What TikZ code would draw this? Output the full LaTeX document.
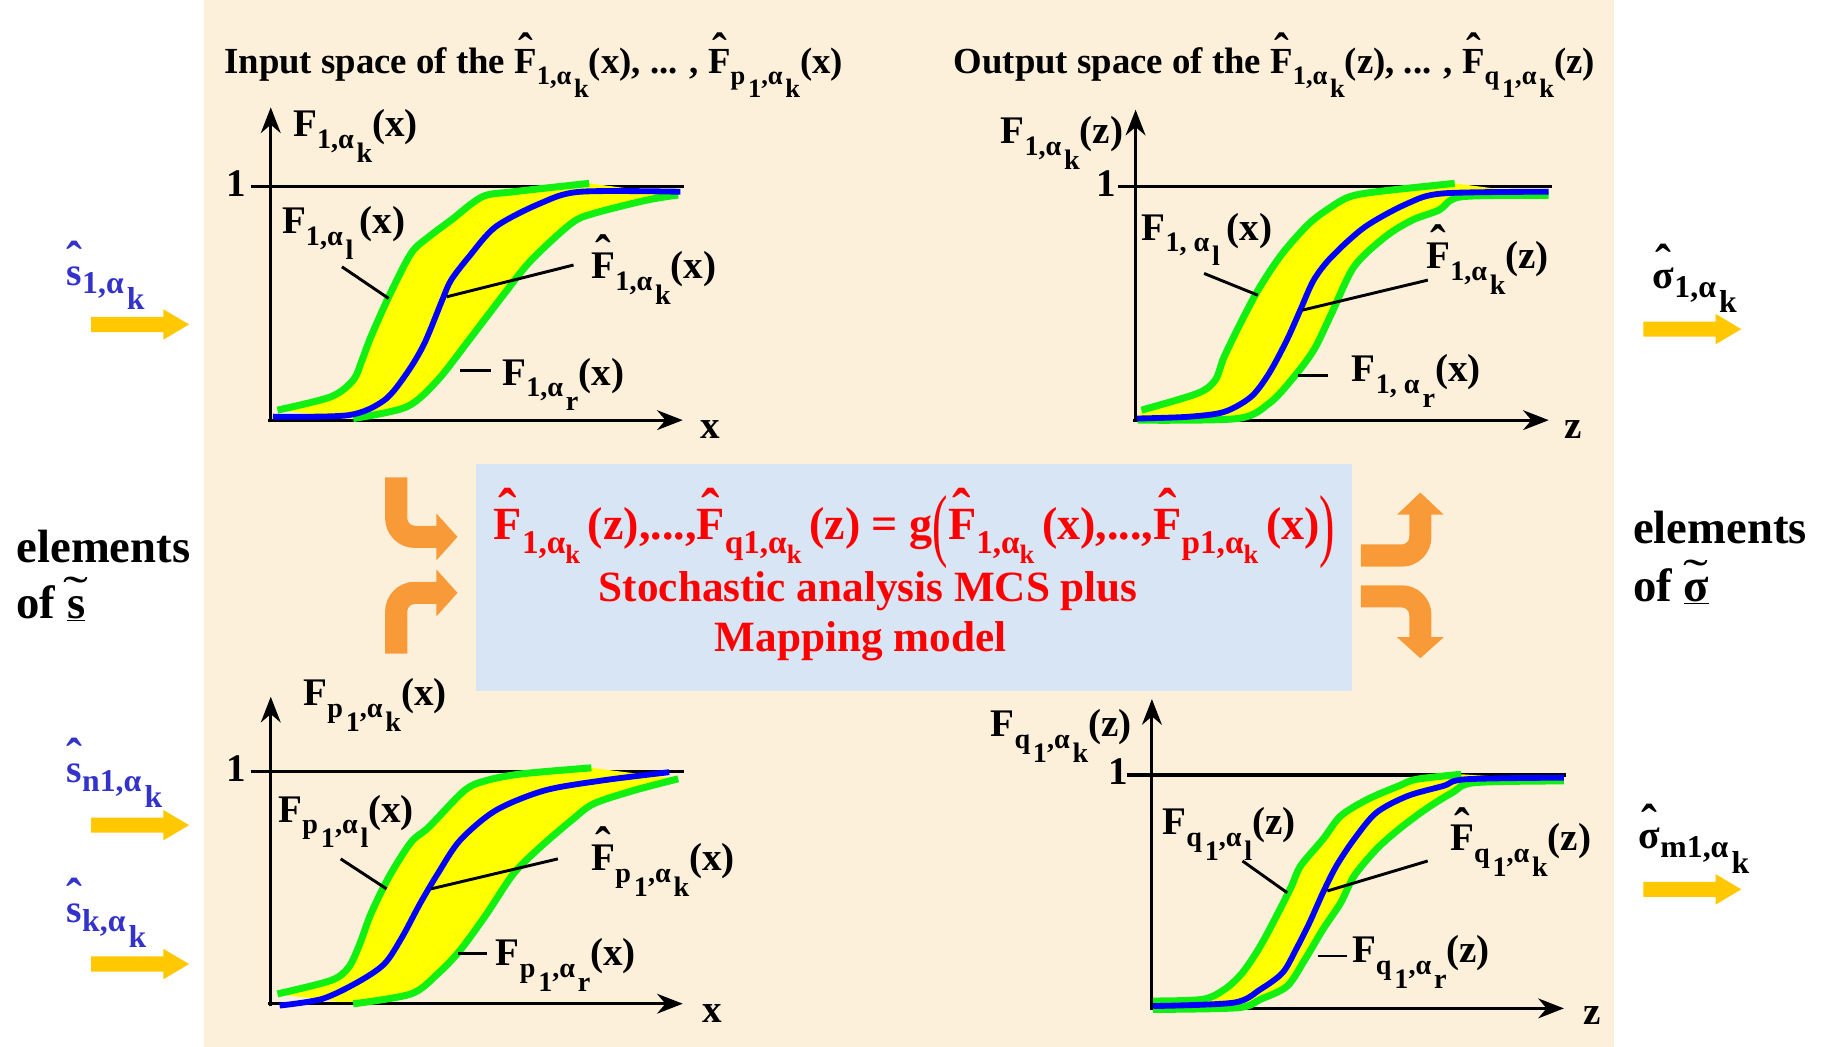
\documentclass[tikz,border=0pt]{standalone}
\usepackage{fontspec}
\usepackage{graphicx}
\setmainfont{Liberation Serif}
\usetikzlibrary{arrows.meta}
\definecolor{beige}{HTML}{FCF0DA}
\definecolor{boxblue}{HTML}{D8E5F4}
\definecolor{gyel}{HTML}{FFFF00}
\definecolor{ggreen}{HTML}{11F011}
\definecolor{bblue}{HTML}{0000FF}
\definecolor{arryel}{HTML}{FFC800}
\definecolor{orng}{HTML}{F99A38}
\definecolor{labblue}{HTML}{3333CC}
\newcommand{\lsub}[1]{\raisebox{-0.3em}{\scalebox{0.72}{#1}}}
\newcommand{\llsub}[1]{\kern0.1em\raisebox{-0.5em}{#1}}
\newcommand{\ksubb}[1]{\raisebox{-0.3em}{\scalebox{0.8}{#1}}}
\newcommand{\bsub}[1]{\raisebox{-0.22em}{\scalebox{0.8}{#1}}}
\newcommand{\hatc}[1]{\ooalign{#1\cr\hidewidth\raisebox{0.2em}{\scalebox{1.2}[1.3]{ˆ}}\hidewidth\cr}}
\newcommand{\tildec}[1]{\ooalign{#1\cr\hidewidth\raisebox{0.22em}{\scalebox{1.6}[1]{\mdseries ˜}}\hidewidth\cr}}
\newcommand{\bigpl}{\raisebox{-0.25em}{\scalebox{1}[1.75]{\mdseries(}}}
\newcommand{\bigpr}{\raisebox{-0.25em}{\scalebox{1}[1.75]{\mdseries)}}}
\tikzset{
  lbl/.style={inner sep=0, anchor=base west, font=\bfseries\fontsize{33.5}{36}\selectfont},
  ttl/.style={inner sep=0, anchor=base west, font=\bfseries\fontsize{31.5}{34}\selectfont},
  axisln/.style={line width=2.5, -{Stealth[length=22pt,width=17pt]}},
  gcurve/.style={draw=ggreen, line width=6, line join=round},
  bcurve/.style={draw=bblue, line width=5, line join=round},
  oneln/.style={line width=3},
  leader/.style={line width=2.5},
  redtxt/.style={text=red, inner sep=0, font=\bfseries\fontsize{37}{40}\selectfont},
  eqtxt/.style={text=red, inner sep=0, font=\bfseries\fontsize{39.5}{40}\selectfont},
  side/.style={inner sep=0, anchor=base west, font=\bfseries\fontsize{40}{44}\selectfont},
  sidelbl/.style={text=labblue, inner sep=0, anchor=base west, font=\bfseries\fontsize{34}{36}\selectfont},
  orngarr/.style={draw=orng, line width=19, rounded corners=16},
  yarrow/.pic={\fill[arryel] (0,-6.5) -- (62,-6.5) -- (62,-13) -- (84,0) -- (62,13) -- (62,6.5) -- (0,6.5) -- cycle;}
}
\begin{document}
\begin{tikzpicture}[x=1pt,y=-1pt]
\useasboundingbox (0,0) rectangle (1568,897);
\fill[white] (0,0) rectangle (1568,897);
\fill[beige] (175,0) rectangle (1383,897);

% ---------- top-left plot ----------
\node[ttl] (tlTitle) at (192,63) {Input space of the \hatc{F}\lsub{1,α\llsub{k}}(x), ... , \hatc{F}\lsub{p\llsub{1},α\llsub{k}}(x)};
\draw[oneln] (215,160) -- (586,160);
\fill[gyel] plot[smooth] coordinates {(237.7,351.4) (283.5,340) (302.6,325.7) (310.2,308.6) (317.8,288.6) (333.1,254.3) (352.2,217.1) (367.4,202.9) (386.5,188.6) (413.2,168.6) (439.9,164.3) (504.8,157.1)} -- plot[smooth] coordinates {(581.1,167.1) (554.4,171.4) (508.6,182.9) (489.5,191.4) (455.2,222.9) (432.3,251.4) (401.8,291.4) (375,325.7) (348.4,348.6) (302.6,358.6)} -- cycle;
\draw[axisln] (232,362) -- (232,92);
\draw[axisln] (230,360) -- (585,360);
\draw[gcurve] plot[smooth] coordinates {(302.6,358.6) (348.4,348.6) (375,325.7) (401.8,291.4) (432.3,251.4) (455.2,222.9) (489.5,191.4) (508.6,182.9) (554.4,171.4) (581.1,167.1)};
\draw[gcurve] plot[smooth] coordinates {(237.7,351.4) (283.5,340) (302.6,325.7) (310.2,308.6) (317.8,288.6) (333.1,254.3) (352.2,217.1) (367.4,202.9) (386.5,188.6) (413.2,168.6) (439.9,164.3) (504.8,157.1)};
\draw[bcurve] plot[smooth] coordinates {(233.9,357) (298.8,355.7) (329.3,342.9) (348.4,320) (363.6,294.3) (378.9,257.1) (386.5,240) (401.8,220) (424.7,194.3) (462.8,174.3) (497.1,164.3) (583,164.3)};
\draw[leader] (293,228.6) -- (333,255.7);
\draw[leader] (382.7,254.3) -- (491.4,227.1);
\draw[leader] (394,317.7) -- (420.8,317.7);
\node[lbl] (tlY) at (251,117) {F\lsub{1,α\llsub{k}}(x)};
\node[lbl] (tlOne) at (194,168.6) {1};
\node[lbl] (tlL) at (241.5,200) {F\lsub{1,α\llsub{l}}\,(x)};
\node[lbl] (tlK) at (506.7,238.6) {\hatc{F}\lsub{1,α\llsub{k}}(x)};
\node[lbl] (tlR) at (430.3,330) {F\lsub{1,α\llsub{r}}(x)};
\node[lbl] (tlX) at (600,376) {x};

% ---------- top-right plot ----------
\node[ttl] (trTitle) at (817,63) {Output space of the \hatc{F}\lsub{1,α\llsub{k}}(z), ... , \hatc{F}\lsub{q\llsub{1},α\llsub{k}}(z)};
\draw[oneln] (958,160) -- (1330,160);
\fill[gyel] plot[smooth] coordinates {(978,351.4) (1025.9,337.1) (1041.2,325.7) (1048.9,305.7) (1064.2,274.3) (1079.6,245.7) (1098.8,217.1) (1121.8,191.4) (1140.9,177.1) (1156.3,168.6) (1179.3,164.3) (1246.4,157.1)} -- plot[smooth] coordinates {(1326.9,167.5) (1252.1,168.6) (1233,180) (1210,188.6) (1186.9,202.9) (1160.1,228.6) (1140.9,268.6) (1125.6,300) (1106.4,325.7) (1087.3,345.7) (1060.4,358.6) (975,360)} -- cycle;
\draw[axisln] (973,362) -- (973,94);
\draw[axisln] (971,360) -- (1327,360);
\draw[gcurve] plot[smooth] coordinates {(975,360) (1060.4,358.6) (1087.3,345.7) (1106.4,325.7) (1125.6,300) (1140.9,268.6) (1160.1,228.6) (1186.9,202.9) (1210,188.6) (1233,180) (1252.1,168.6) (1326.9,167.5)};
\draw[gcurve] plot[smooth] coordinates {(978,351.4) (1025.9,337.1) (1041.2,325.7) (1048.9,305.7) (1064.2,274.3) (1079.6,245.7) (1098.8,217.1) (1121.8,191.4) (1140.9,177.1) (1156.3,168.6) (1179.3,164.3) (1246.4,157.1)};
\draw[bcurve] plot[smooth] coordinates {(974.2,358.6) (1018.2,357.1) (1048.9,352.9) (1071.9,340) (1087.3,320) (1102.6,291.4) (1114.1,265.7) (1125.6,240) (1141,220) (1169.7,194.3) (1206.1,174.3) (1236.8,165.7) (1326.9,164.3)};
\draw[leader] (1031.7,234.3) -- (1077.7,252.9);
\draw[leader] (1116,265.7) -- (1223.4,240);
\draw[leader] (1112.2,321.4) -- (1138.2,321.4);
\node[lbl] (trY) at (857.2,122.9) {F\lsub{1,α\llsub{k}}(z)};
\node[lbl] (trOne) at (939.6,168.6) {1};
\node[lbl] (trL) at (978,205.7) {F\lsub{1, α\llsub{l}}\,(x)};
\node[lbl] (trK) at (1222,230) {\hatc{F}\lsub{1,α\llsub{k}}(z)};
\node[lbl] (trR) at (1158.2,327) {F\lsub{1, α\llsub{r}}(x)};
\node[lbl] (trZ) at (1340,375.7) {z};

% ---------- bottom-left plot ----------
\draw[oneln] (215,661) -- (586,661);
\fill[gyel] plot[smooth] coordinates {(237.7,851.6) (283.5,840.1) (298.8,828.7) (308.3,808.7) (317.8,783) (333.1,751.6) (352.2,721.6) (367.4,708.7) (398,677.3) (417,668.7) (447.5,663) (506.7,657.9)} -- plot[smooth] coordinates {(581.1,667.3) (543,677.3) (508.6,688.7) (489.5,703) (462.8,725.9) (439.9,748.7) (417,783) (394.1,814.4) (375,834.4) (352.2,851.6) (302.6,860.1)} -- cycle;
\draw[axisln] (232,862) -- (232,597);
\draw[axisln] (230,860) -- (585,860);
\draw[gcurve] plot[smooth] coordinates {(302.6,860.1) (352.2,851.6) (375,834.4) (394.1,814.4) (417,783) (439.9,748.7) (462.8,725.9) (489.5,703) (508.6,688.7) (543,677.3) (581.1,667.3)};
\draw[gcurve] plot[smooth] coordinates {(237.7,851.6) (283.5,840.1) (298.8,828.7) (308.3,808.7) (317.8,783) (333.1,751.6) (352.2,721.6) (367.4,708.7) (398,677.3) (417,668.7) (447.5,663) (506.7,657.9)};
\draw[bcurve] plot[smooth] coordinates {(239.6,861.6) (275.9,855.9) (306.4,841.6) (329.3,825.9) (344.5,803) (359.8,774.4) (375,748.7) (394.1,720.1) (424.7,694.4) (466.6,677.3) (516.2,668.7) (573.4,661.6)};
\draw[leader] (291.9,735.9) -- (331.2,761.6);
\draw[leader] (369.3,761.6) -- (478,735.9);
\draw[leader] (392.2,817.3) -- (417,817.3);
\node[lbl] (blY) at (259.8,604.4) {F\lsub{p\llsub{1},α\llsub{k}}(x)};
\node[lbl] (blOne) at (194,670) {1};
\node[lbl] (blL) at (238.5,704.4) {F\lsub{p\llsub{1},α\llsub{l}}(x)};
\node[lbl] (blK) at (506.7,745.9) {\hatc{F}\lsub{p\llsub{1},α\llsub{k}}(x)};
\node[lbl] (blR) at (424.7,827.3) {F\lsub{p\llsub{1},α\llsub{r}}(x)};
\node[lbl] (blX) at (602,875.8) {x};

% ---------- bottom-right plot ----------
\draw[oneln] (966,664) -- (1342,664);
\fill[gyel] plot[smooth] coordinates {(988.1,857.7) (1030.2,856.3) (1049.3,847.7) (1064.6,833.4) (1079.9,810.6) (1095.2,782) (1106.7,759.1) (1114.3,742) (1133.5,719.1) (1148.8,699.1) (1171.7,684.9) (1198.5,673.4) (1213.8,667.7) (1252,663.4)} -- plot[smooth] coordinates {(1340,669.1) (1263.5,670.6) (1244.4,679.1) (1221.4,693.4) (1198.5,710.6) (1179.3,727.7) (1160.2,750.6) (1148.8,773.4) (1133.5,796.3) (1118.2,822) (1102.9,844.9) (1079.9,856.3) (1060.8,863.4) (988.1,864.9)} -- cycle;
\draw[axisln] (987,865) -- (987,599);
\draw[axisln] (985,864) -- (1340,864);
\draw[gcurve] plot[smooth] coordinates {(988.1,864.9) (1060.8,863.4) (1079.9,856.3) (1102.9,844.9) (1118.2,822) (1133.5,796.3) (1148.8,773.4) (1160.2,750.6) (1179.3,727.7) (1198.5,710.6) (1221.4,693.4) (1244.4,679.1) (1263.5,670.6) (1340,669.1)};
\draw[gcurve] plot[smooth] coordinates {(988.1,857.7) (1030.2,856.3) (1049.3,847.7) (1064.6,833.4) (1079.9,810.6) (1095.2,782) (1106.7,759.1) (1114.3,742) (1133.5,719.1) (1148.8,699.1) (1171.7,684.9) (1198.5,673.4) (1213.8,667.7) (1252,663.4)};
\draw[bcurve] plot[smooth] coordinates {(988.1,862) (1057,859.1) (1079.9,847.7) (1099,833.4) (1110.5,813.4) (1122,790.6) (1133.5,764.9) (1145,742) (1160.2,719.1) (1179.3,696.3) (1206.1,682) (1236.7,673.4) (1255.8,667.7) (1340,666.3)};
\draw[leader] (1064.6,737.7) -- (1102.9,764.9);
\draw[leader] (1137.3,763.4) -- (1223.3,737.7);
\draw[leader] (1129.6,819.1) -- (1154.5,819.1);
\node[lbl] (brY) at (848.6,631.1) {F\lsub{q\llsub{1},α\llsub{k}}(z)};
\node[lbl] (brOne) at (950,672) {1};
\node[lbl] (brL) at (995.8,714.9) {F\lsub{q\llsub{1},α\llsub{l}}(z)};
\node[lbl] (brK) at (1242.4,729.1) {\hatc{F}\lsub{q\llsub{1},α\llsub{k}}(z)};
\node[lbl] (brR) at (1158.3,824.8) {F\lsub{q\llsub{1},α\llsub{r}}(z)};
\node[lbl] (brZ) at (1357,877.7) {z};

% ---------- central box ----------
\node[fill=boxblue, inner sep=0, minimum width=750pt, minimum height=195pt, anchor=north west] (mcsbox) at (408,397) {};
\node[eqtxt, anchor=base west] (eqn) at (423,462.6) {\hatc{F}\lsub{1,α\ksubb{k}}\,(z),...,\hatc{F}\lsub{q1,α\ksubb{k}}\,(z) = g\bigpl\hatc{F}\lsub{1,α\ksubb{k}}\,(x),...,\hatc{F}\lsub{p1,α\ksubb{k}}\,(x)\bigpr};
\node[redtxt, anchor=base] (stoch) at (744,515) {Stochastic analysis MCS plus};
\node[redtxt, anchor=base] (mapm) at (737.5,558.6) {Mapping model};

% orange bent arrows
\draw[orngarr] (339.5,409) |- (376,460);
\fill[orng] (374,440) -- (392,460) -- (374,480) -- cycle;
\draw[orngarr] (339.5,560) |- (376,508);
\fill[orng] (374,488) -- (392,508) -- (374,528) -- cycle;
\draw[orngarr] (1166,476) -| (1217,439);
\fill[orng] (1197,441) -- (1217,422) -- (1237,441) -- cycle;
\draw[orngarr] (1166,511) -| (1217,548);
\fill[orng] (1197,546) -- (1217,564) -- (1237,546) -- cycle;

% ---------- left side ----------
\node[sidelbl] (s1) at (57,244.3) {\hatc{s}\bsub{1,α\llsub{k}}};
\pic at (78,278) {yarrow};
\node[side] (elemL) at (14,482) {elements};
\node[side] (ofL) at (14,530) {of \underline{\tildec{s}}};
\node[sidelbl] (sn1) at (57,670.4) {\hatc{s}\bsub{n1,α\llsub{k}}};
\pic at (78,707) {yarrow};
\node[sidelbl] (sk) at (57,790.6) {\hatc{s}\bsub{k,α\llsub{k}}};
\pic at (78,826) {yarrow};

% ---------- right side ----------
\node[sidelbl, text=black] (sig1) at (1416,247) {\hatc{σ}\bsub{1,α\llsub{k}}};
\pic at (1408,282) {yarrow};
\node[side] (elemR) at (1399,466) {elements};
\node[side] (ofR) at (1399,515.5) {of \underline{\tildec{σ}}};
\node[sidelbl, text=black] (sigm) at (1404,727) {\hatc{σ}\bsub{m1,α\llsub{k}}};
\pic at (1408,762) {yarrow};
\end{tikzpicture}
\end{document}
